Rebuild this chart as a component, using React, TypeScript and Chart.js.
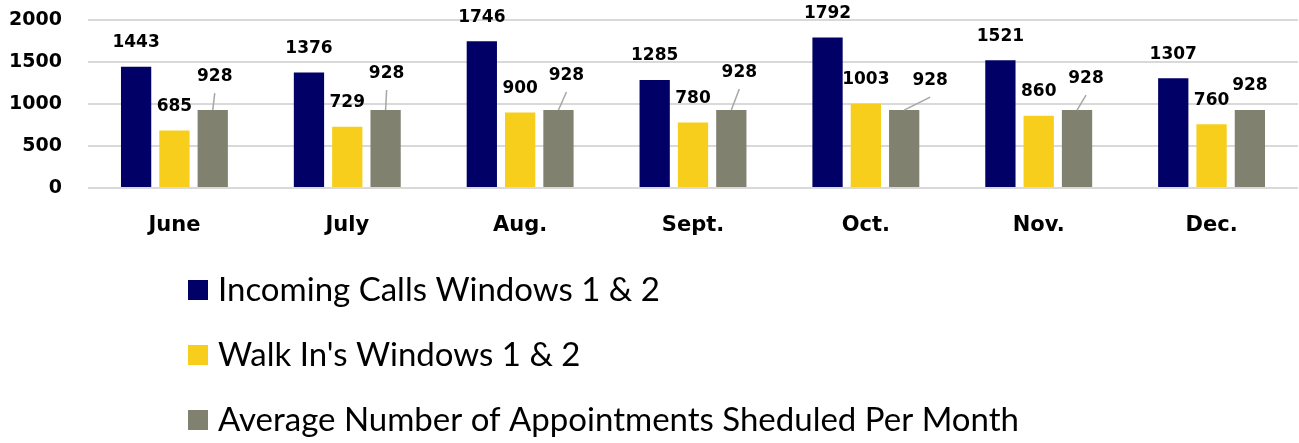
import React, { useEffect, useRef } from "react";
import { Chart, registerables } from "chart.js";

Chart.register(...registerables);

const categories = ["June", "July", "Aug.", "Sept.", "Oct.", "Nov.", "Dec."];
const incomingCalls = [1443, 1376, 1746, 1285, 1792, 1521, 1307];
const walkIns = [685, 729, 900, 780, 1003, 860, 760];
const avgAppointments = [928, 928, 928, 928, 928, 928, 928];
const seriesNames = [
  "Incoming Calls Windows 1 & 2",
  "Walk In's Windows 1 & 2",
  "Average Number of Appointments Sheduled Per Month",
];
const yTicks = [0, 500, 1000, 1500, 2000];

const COLORS = ["#000066", "#F6CE1B", "#818170"];

// label placement styling (offset of label centre from bar top centre), per series / category
const LABEL_DY = [-24, -24];
const GRAY_LABEL_OFFSETS: [number, number][] = [
  [2, -33],
  [1, -36],
  [8, -34],
  [8, -37],
  [26, -29],
  [9, -31],
  [0, -24],
];
const GRAY_LEADER = [true, true, true, true, true, true, false];

const LABEL_FONT = "bold 17px 'DejaVu Sans'";
const AXIS_FONT_FAMILY = "DejaVu Sans";

const dataLabelPlugin = {
  id: "dataLabels",
  afterDatasetsDraw(chart: any) {
    const ctx = chart.ctx;
    ctx.save();
    ctx.font = LABEL_FONT;
    ctx.fillStyle = "#000";
    ctx.textAlign = "center";
    ctx.textBaseline = "middle";
    chart.data.datasets.forEach((ds: any, di: number) => {
      const meta = chart.getDatasetMeta(di);
      meta.data.forEach((el: any, i: number) => {
        const v = ds.data[i];
        let dx = 0;
        let dy = di < 2 ? LABEL_DY[di] : -24;
        if (di === 2) {
          dx = GRAY_LABEL_OFFSETS[i][0];
          dy = GRAY_LABEL_OFFSETS[i][1];
        }
        const lx = el.x + dx;
        const ly = el.y + dy;
        if (di === 2 && GRAY_LEADER[i]) {
          ctx.save();
          ctx.strokeStyle = "#a6a6a6";
          ctx.lineWidth = 1.5;
          ctx.beginPath();
          ctx.moveTo(lx, ly + 16);
          ctx.lineTo(el.x, el.y);
          ctx.stroke();
          ctx.restore();
        }
        ctx.fillText(String(v), lx, ly);
      });
    });
    ctx.restore();
  },
};

const LEGEND_X = 188;
const LEGEND_Y0 = 290;
const LEGEND_STEP = 65;
const LEGEND_BOX = 20;

const legendPlugin = {
  id: "stackedLegend",
  afterDraw(chart: any) {
    const ctx = chart.ctx;
    ctx.save();
    ctx.font = "33px Lato";
    ctx.textAlign = "left";
    ctx.textBaseline = "middle";
    chart.data.datasets.forEach((ds: any, di: number) => {
      const cy = LEGEND_Y0 + di * LEGEND_STEP;
      ctx.fillStyle = ds.backgroundColor;
      ctx.fillRect(LEGEND_X, cy - LEGEND_BOX / 2, LEGEND_BOX, LEGEND_BOX);
      ctx.fillStyle = "#000";
      ctx.fillText(ds.label, LEGEND_X + LEGEND_BOX + 10, cy);
    });
    ctx.restore();
  },
};

export default function App() {
  const canvasRef = useRef<HTMLCanvasElement | null>(null);

  useEffect(() => {
    document.body.style.margin = "0";
    const canvas = canvasRef.current;
    if (!canvas) return;
    const values = [incomingCalls, walkIns, avgAppointments];
    const chart = new Chart(canvas, {
      type: "bar",
      data: {
        labels: categories,
        datasets: values.map((d, i) => ({
          label: seriesNames[i],
          data: d,
          backgroundColor: COLORS[i],
          borderWidth: 0,
          categoryPercentage: 0.665,
          barPercentage: 0.79,
        })),
      },
      options: {
        animation: false,
        responsive: false,
        maintainAspectRatio: false,
        layout: { padding: { top: 20, right: 1, left: 0, bottom: 200 } },
        plugins: {
          legend: { display: false },
          tooltip: { enabled: false },
        },
        scales: {
          x: {
            grid: { display: false },
            border: { display: false },
            ticks: {
              color: "#000",
              font: { family: AXIS_FONT_FAMILY, size: 21, weight: "bold" },
              padding: 17,
              maxRotation: 0,
            },
            afterFit(scale: any) {
              scale.height = 55;
              scale.paddingLeft = 0;
              scale.paddingRight = 0;
            },
          },
          y: {
            min: 0,
            max: 2000,
            afterBuildTicks(scale: any) {
              scale.ticks = yTicks.map((v) => ({ value: v }));
            },
            grid: { color: "#d9d9d9", lineWidth: 2, drawTicks: false },
            border: { display: false },
            ticks: {
              color: "#000",
              font: { family: AXIS_FONT_FAMILY, size: 19, weight: "bold" },
              padding: 26,
              callback: (v: any) => String(v),
            },
            afterFit(scale: any) {
              scale.width = 88;
              scale.paddingTop = 0;
              scale.paddingBottom = 0;
            },
          },
        },
      },
      plugins: [dataLabelPlugin, legendPlugin],
    });
    return () => chart.destroy();
  }, []);

  return (
    <div style={{ width: 1299, height: 443 }}>
      <canvas ref={canvasRef} width={1299} height={443} />
    </div>
  );
}
